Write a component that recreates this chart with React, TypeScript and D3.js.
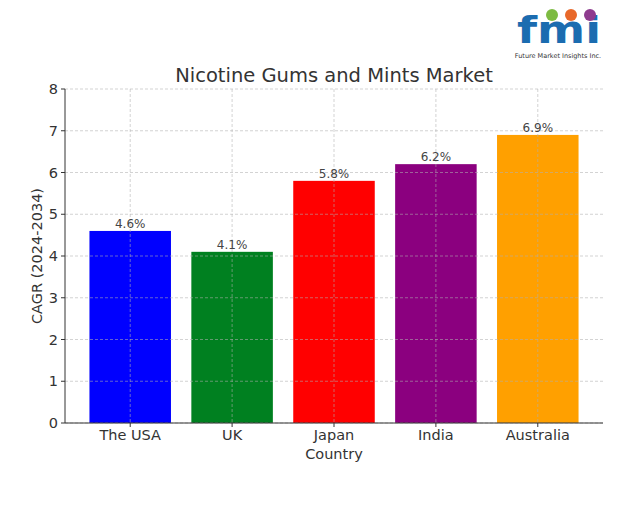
import React from "react";
import * as d3 from "d3";

const categories = ["The USA", "UK", "Japan", "India", "Australia"];
const values = [4.6, 4.1, 5.8, 6.2, 6.9];
const colors = ["#0000ff", "#008020", "#ff0000", "#8b007f", "#ffa000"];
const yTicks = [0, 1, 2, 3, 4, 5, 6, 7, 8];

const W = 640, H = 512;
const L = 65, R = 603, T = 89, B = 423;
const FONT = "DejaVu Sans, sans-serif";

export default function App() {
  const x = d3.scaleLinear().domain([-0.64, categories.length - 1 + 0.64]).range([L, R]);
  const y = d3.scaleLinear().domain([0, 8]).range([B, T]);
  const bw = x(0.4) - x(-0.4);
  return (
    <svg width={W} height={H} style={{ position: "absolute", left: 0, top: 0 }} fontFamily={FONT}>
      <rect width={W} height={H} fill="#fff" />
      {/* logo */}
      <g>
        <text x={517} y={43} fontSize={38} fontWeight="bold" fill="#1b6cb0" textLength={84} lengthAdjust="spacingAndGlyphs">fmi</text>
        <circle cx={552} cy={15} r={6} fill="#7dbb42" />
        <circle cx={571} cy={15} r={6} fill="#e8682a" />
        <circle cx={590} cy={15} r={6} fill="#8e3b8e" />
        <text x={558} y={58} textAnchor="middle" fontSize={6.5} fill="#333">Future Market Insights Inc.</text>
      </g>
      <text x={(L + R) / 2} y={82} textAnchor="middle" fontSize={19.5} fill="#333">Nicotine Gums and Mints Market</text>
      {categories.map((c, i) => (
        <rect key={c} x={x(i) - bw / 2} y={y(values[i])} width={bw} height={y(0) - y(values[i])} fill={colors[i]} />
      ))}
      {yTicks.map((t) => (
        <line key={"gy" + t} x1={L} x2={R} y1={y(t)} y2={y(t)} stroke="#b0b0b0" strokeOpacity={0.7} strokeWidth={0.8} strokeDasharray="3,2" />
      ))}
      {categories.map((c, i) => (
        <line key={"gx" + c} x1={x(i)} x2={x(i)} y1={T} y2={B} stroke="#b0b0b0" strokeOpacity={0.7} strokeWidth={0.8} strokeDasharray="3,2" />
      ))}
      {categories.map((c, i) => (
        <text key={"v" + c} x={x(i)} y={y(values[i]) - 3} textAnchor="middle" fontSize={12} fill="#444">{values[i].toFixed(1)}%</text>
      ))}
      <line x1={L} x2={L} y1={T} y2={B} stroke="#333" strokeWidth={1} />
      <line x1={L} x2={R} y1={B} y2={B} stroke="#333" strokeWidth={1} />
      {yTicks.map((t) => (
        <g key={"ty" + t}>
          <line x1={L - 4} x2={L} y1={y(t)} y2={y(t)} stroke="#333" />
          <text x={L - 7} y={y(t)} dy="0.35em" textAnchor="end" fontSize={14.5} fill="#333">{t}</text>
        </g>
      ))}
      {categories.map((c, i) => (
        <g key={"tx" + c}>
          <line x1={x(i)} x2={x(i)} y1={B} y2={B + 4} stroke="#333" />
          <text x={x(i)} y={B + 17} textAnchor="middle" fontSize={14.5} fill="#333">{c}</text>
        </g>
      ))}
      <text x={(L + R) / 2} y={459} textAnchor="middle" fontSize={14.5} fill="#333">Country</text>
      <text transform={`translate(42,${(T + B) / 2}) rotate(-90)`} textAnchor="middle" fontSize={14.5} fill="#333">CAGR (2024-2034)</text>
    </svg>
  );
}
